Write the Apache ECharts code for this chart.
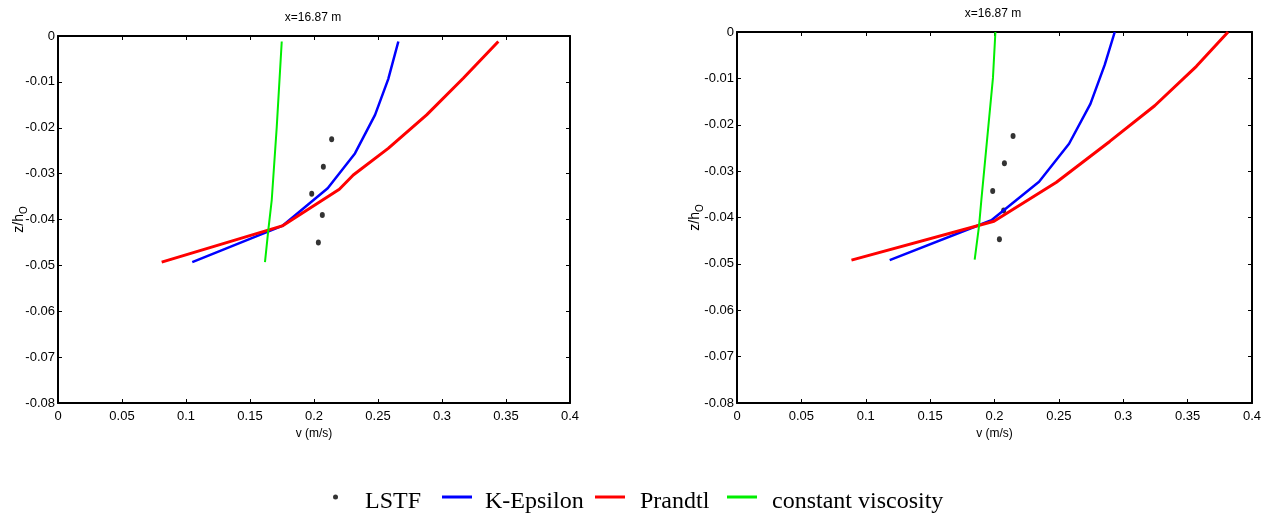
<!DOCTYPE html>
<html><head><meta charset="utf-8">
<script src="https://cdn.jsdelivr.net/npm/echarts@6/dist/echarts.min.js"></script>
<style>html,body{margin:0;padding:0;background:#fff}#c{width:1269px;height:515px}</style>
</head><body><div id="c"></div><script>
// ---- data ----
const titleText = 'x=16.87 m';
const xName = 'v (m/s)';
const seriesNames = ['LSTF', 'K-Epsilon', 'Prandtl', 'constant viscosity'];
const xMin = 0, xMax = 0.4, xStep = 0.05;
const yMin = -0.08, yMax = 0, yStep = 0.01;

// left panel
const lstfA_v = [0.2138, 0.2073, 0.1982, 0.2065, 0.2034];
const lstfA_z = [-0.0225, -0.0285, -0.0344, -0.0390, -0.0450];
const kepsA_v = [0.2659, 0.2580, 0.2477, 0.2320, 0.2107, 0.1752, 0.1049];
const kepsA_z = [-0.0012, -0.0094, -0.0172, -0.0256, -0.0332, -0.0414, -0.0493];
const prandA_v = [0.3440, 0.3166, 0.2880, 0.2580, 0.2307, 0.2198, 0.1752, 0.0810];
const prandA_z = [-0.0012, -0.0092, -0.0172, -0.0245, -0.0303, -0.0334, -0.0414, -0.0493];
const constA_v = [0.1748, 0.1709, 0.1670, 0.1643, 0.1617];
const constA_z = [-0.0012, -0.0198, -0.0357, -0.0423, -0.0493];

// right panel
const lstfB_v = [0.2144, 0.2077, 0.1986, 0.2071, 0.2038];
const lstfB_z = [-0.0224, -0.0283, -0.0343, -0.0385, -0.0447];
const kepsB_v = [0.2934, 0.2856, 0.2745, 0.2579, 0.2346, 0.1976, 0.1186];
const kepsB_z = [0, -0.0071, -0.0155, -0.0241, -0.0323, -0.0406, -0.0492];
const prandB_v = [0.3814, 0.3568, 0.3244, 0.2895, 0.2481, 0.1996, 0.0889];
const prandB_z = [0, -0.0074, -0.0159, -0.0236, -0.0324, -0.0408, -0.0492];
const constB_v = [0.2007, 0.1988, 0.1898, 0.1880, 0.1846];
const constB_z = [0, -0.0099, -0.0362, -0.0418, -0.0491];

// ---- build ----
function zip(a, b) { return a.map((v, i) => [v, b[i]]); }
const axFont = '"Liberation Sans",Arial,sans-serif';
const serifFont = '"Liberation Serif","Times New Roman",serif';
const colors = { 'LSTF': '#000000', 'K-Epsilon': '#0000ff', 'Prandtl': '#ff0000', 'constant viscosity': '#00ee00' };

function xAx(grid, bottom) {
  return {
    type: 'value', gridIndex: grid, min: xMin, max: xMax, interval: xStep,
    position: bottom ? 'bottom' : 'top',
    axisLine: { show: true, onZero: false, lineStyle: { color: '#000', width: 2 } },
    axisTick: { show: true, inside: true, length: 4, lineStyle: { color: '#000', width: 1 } },
    axisLabel: { show: bottom, color: '#000', fontFamily: axFont, fontSize: 13, margin: 7 },
    splitLine: { show: false },
    name: bottom ? xName : '', nameLocation: 'middle', nameGap: 25, nameMoveOverlap: false,
    nameTextStyle: { color: '#000', fontFamily: axFont, fontSize: 12 }
  };
}
function yAx(grid, left, gap) {
  return {
    type: 'value', gridIndex: grid, min: yMin, max: yMax, interval: yStep,
    position: left ? 'left' : 'right',
    axisLine: { show: true, onZero: false, lineStyle: { color: '#000', width: 2 } },
    axisTick: { show: true, inside: true, length: 4, lineStyle: { color: '#000', width: 1 } },
    axisLabel: { show: left, color: '#000', fontFamily: axFont, fontSize: 13, margin: 3 },
    splitLine: { show: false },
    name: left ? '{a|z/h}{b|O}' : '', nameLocation: 'middle', nameGap: gap, nameRotate: 90,
    nameMoveOverlap: false,
    nameTextStyle: {
      color: '#000', fontFamily: axFont,
      rich: {
        a: { fontSize: 14, fontFamily: axFont, color: '#000' },
        b: { fontSize: 10, fontFamily: axFont, color: '#000', padding: [9, 0, 0, 0] }
      }
    }
  };
}
function lineS(name, v, z, idx, w) {
  return {
    name: name, type: 'line', xAxisIndex: idx, yAxisIndex: idx,
    data: zip(v, z), showSymbol: false, symbol: 'none',
    lineStyle: { color: colors[name], width: w }, itemStyle: { color: colors[name] },
    emphasis: { disabled: true }
  };
}
function dotS(name, v, z, idx) {
  return {
    name: name, type: 'scatter', xAxisIndex: idx, yAxisIndex: idx,
    data: zip(v, z), symbol: 'circle', symbolSize: [5, 6],
    itemStyle: { color: colors[name] }
  };
}
function legendItem(name, left, icon, w, h, pad) {
  return {
    data: [name], left: left, top: 490, padding: 0, icon: icon,
    itemWidth: w, itemHeight: h, itemStyle: { borderWidth: 0 },
    formatter: '{t|{name}}',
    textStyle: {
      fontFamily: serifFont, fontSize: 24, color: '#000',
      rich: { t: { fontFamily: serifFont, fontSize: 24, color: '#000', padding: [10, 0, 0, pad] } }
    }
  };
}

const option = {
  animation: false,
  backgroundColor: '#fff',
  title: [
    { text: titleText, left: 313, top: 12, padding: 0, textAlign: 'center',
      textStyle: { fontFamily: axFont, fontSize: 12, fontWeight: 'normal', color: '#000' } },
    { text: titleText, left: 993, top: 8, padding: 0, textAlign: 'center',
      textStyle: { fontFamily: axFont, fontSize: 12, fontWeight: 'normal', color: '#000' } }
  ],
  legend: [
    legendItem('LSTF', 333, 'circle', 5, 5, 22),
    legendItem('K-Epsilon', 442, 'rect', 30, 3, 8),
    legendItem('Prandtl', 595, 'rect', 30, 3, 10),
    legendItem('constant viscosity', 727, 'rect', 30, 3, 10)
  ],
  grid: [
    { left: 58, top: 36, width: 512, height: 367 },
    { left: 737, top: 32, width: 515, height: 371 }
  ],
  xAxis: [xAx(0, true), xAx(0, false), xAx(1, true), xAx(1, false)],
  yAxis: [yAx(0, true, 29), yAx(0, false, 0), yAx(1, true, 32), yAx(1, false, 0)],
  series: [
    dotS('LSTF', lstfA_v, lstfA_z, 0),
    lineS('K-Epsilon', kepsA_v, kepsA_z, 0, 2.5),
    lineS('Prandtl', prandA_v, prandA_z, 0, 3),
    lineS('constant viscosity', constA_v, constA_z, 0, 2),
    dotS('LSTF', lstfB_v, lstfB_z, 2),
    lineS('K-Epsilon', kepsB_v, kepsB_z, 2, 2.5),
    lineS('Prandtl', prandB_v, prandB_z, 2, 3),
    lineS('constant viscosity', constB_v, constB_z, 2, 2)
  ]
};
const chart = echarts.init(document.getElementById('c'), null, { renderer: 'canvas' });
chart.setOption(option);
</script></body></html>
